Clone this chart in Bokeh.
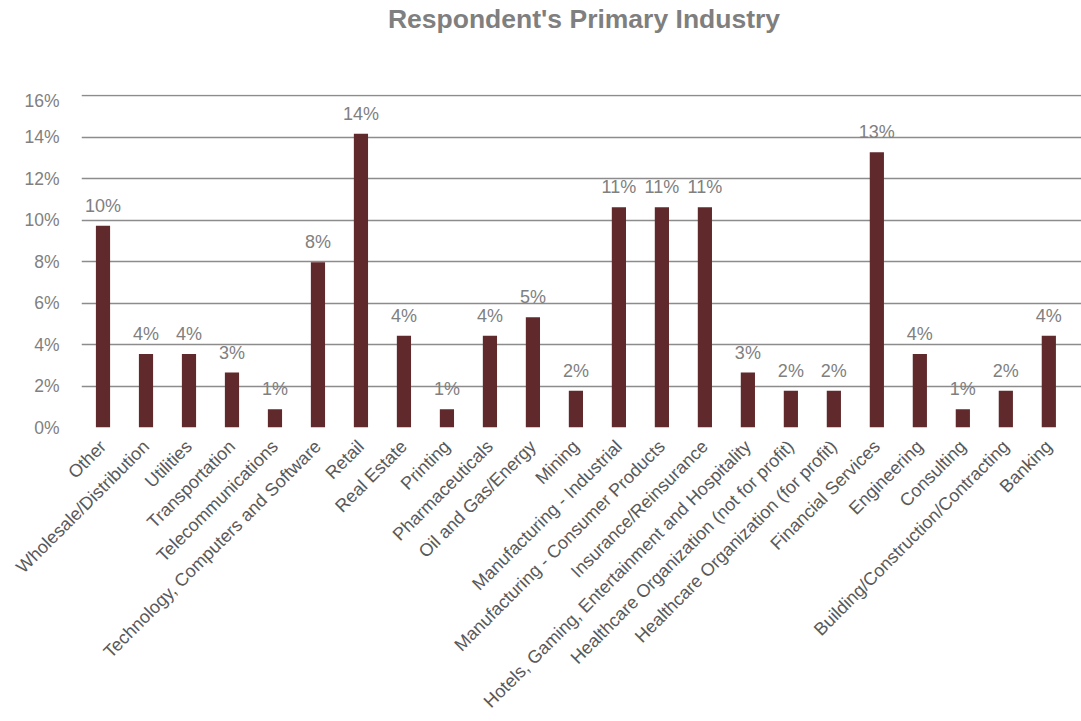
import math
from bokeh.plotting import figure
from bokeh.layouts import column
from bokeh.models import Range1d, FixedTicker, ColumnDataSource
from bokeh.core.properties import value
from bokeh.embed import file_html
from bokeh.resources import INLINE

categories = [
    "Other", "Wholesale/Distribution", "Utilities", "Transportation",
    "Telecommunications", "Technology, Computers and Software", "Retail",
    "Real Estate", "Printing", "Pharmaceuticals", "Oil and Gas/Energy", "Mining",
    "Manufacturing - Industrial", "Manufacturing - Consumer Products",
    "Insurance/Reinsurance", "Hotels, Gaming, Entertainment and Hospitality",
    "Healthcare Organization (not for profit)", "Healthcare Organization (for profit)",
    "Financial Services", "Engineering", "Consulting",
    "Building/Construction/Contracting", "Banking",
]
percent = [9.73, 3.54, 3.54, 2.65, 0.88, 7.96, 14.16, 4.42, 0.88, 4.42, 5.31, 1.77,
           10.62, 10.62, 10.62, 2.65, 1.77, 1.77, 13.27, 3.54, 0.88, 1.77, 4.42]
y_ticks = [0, 2, 4, 6, 8, 10, 12, 14, 16]
title_text = "Respondent's Primary Industry"

xs = list(range(len(categories)))
labels = [f"{round(v)}%" for v in percent]
src = ColumnDataSource(dict(x=xs, top=percent, label=labels))

FONT = "Liberation Sans"
W = 1081
TITLE_H = 90
MAIN_H = 721 - TITLE_H
LEFT, TOP, BOTTOM = 81, 4, 293

# Title strip (its own small figure; frame aligned with the main figure's frame)
t = figure(width=W, height=TITLE_H, output_backend="svg", toolbar_location=None,
           x_range=Range1d(LEFT, W), y_range=Range1d(0, TITLE_H),
           x_axis_type=None, y_axis_type=None, min_border=0,
           min_border_left=LEFT, min_border_right=0,
           outline_line_color=None)
t.xgrid.grid_line_color = None
t.ygrid.grid_line_color = None
t.text(x=[583.5], y=[TITLE_H - 18], text=[title_text], text_align="center",
       text_baseline="middle", text_font=value(FONT), text_font_size="26.5px",
       text_font_style="bold", text_color="#7f7f7f")

p = figure(width=W, height=MAIN_H, output_backend="svg", toolbar_location=None,
           x_range=Range1d(-0.5, 22.76), y_range=Range1d(0, 16.05),
           min_border_left=LEFT, min_border_right=0, min_border_bottom=BOTTOM,
           min_border_top=TOP, outline_line_color=None)

p.vbar(x="x", top="top", width=0.33, bottom=0, source=src,
       fill_color="#60292b", line_color=None)
p.text(x="x", y="top", text="label", source=src, text_align="center",
       text_baseline="alphabetic", y_offset=-20, text_font=value(FONT),
       text_font_size="18px", text_color="#808080")

# x axis
xa = p.xaxis[0]
xa.ticker = FixedTicker(ticks=xs)
xa.major_label_overrides = {i: c for i, c in enumerate(categories)}
xa.major_label_orientation = math.pi / 4
xa.major_label_text_font = FONT
xa.major_label_text_font_size = "18px"
xa.major_label_text_color = "#595959"
xa.major_label_standoff = 10
xa.axis_line_color = None
xa.major_tick_line_color = None
xa.minor_tick_line_color = None

# y axis
ya = p.yaxis[0]
ya.ticker = FixedTicker(ticks=y_ticks)
ya.major_label_overrides = {t_: f"{t_}%" for t_ in y_ticks}
ya.major_label_text_font = FONT
ya.major_label_text_font_size = "17.5px"
ya.major_label_text_color = "#808080"
ya.major_label_standoff = 16
ya.axis_line_color = None
ya.major_tick_line_color = None
ya.minor_tick_line_color = None

p.xgrid.grid_line_color = None
p.ygrid.grid_line_color = "#8c8c8c"
p.ygrid.grid_line_width = 1.6

layout = column(t, p, spacing=0)
open("out.html", "w").write(file_html(layout, INLINE))
